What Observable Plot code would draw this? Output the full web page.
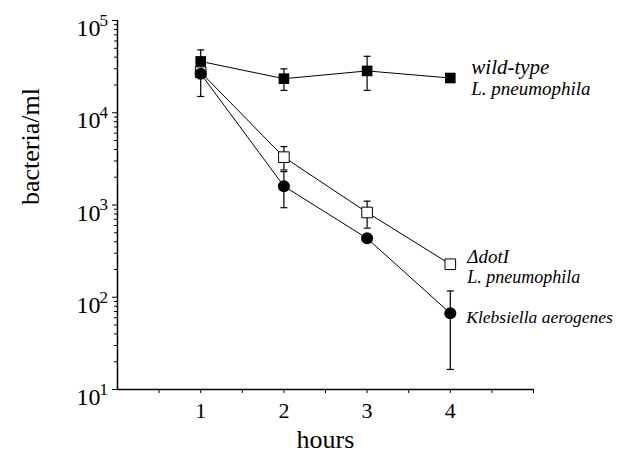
<!DOCTYPE html>
<html>
<head>
<meta charset="utf-8">
<script src="https://cdn.jsdelivr.net/npm/d3@7"></script>
<script src="https://cdn.jsdelivr.net/npm/@observablehq/plot@0.6"></script>
<style>
  html, body { margin: 0; padding: 0; background: #fff; }
  svg { display: block; }
</style>
</head>
<body>
<div id="chart"></div>
<script>
// ---- data ----
const hours = [1, 2, 3, 4];

const wildType   = [36000, 23400, 28400, 23800];
const wildTypeLo = [28000, 17500, 17500, 22500];
const wildTypeHi = [48000, 29900, 40900, 25000];

const dotI   = [27500, 3300, 830, 228];
const dotILo = [24000, 2400, 562, 212];
const dotIHi = [31000, 4300, 1100, 245];

const kleb   = [26500, 1600, 435, 67];
const klebLo = [15000, 935, 400, 16.5];
const klebHi = [33000, 2300, 470, 117];

const xTicks = [0.5, 1, 1.5, 2, 2.5, 3, 3.5, 4, 4.5, 5];
const xTickLabels = [1, 2, 3, 4];
const yMajor = [10, 100, 1000, 10000, 100000];
const yExponents = ["1", "2", "3", "4", "5"];

const wtLabel = ["wild-type", "L. pneumophila"];
const dotILabel = ["\u0394dotI", "L. pneumophila"];
const klebLabel = ["Klebsiella aerogenes"];

// ---- build tables ----
const seriesDefs = [
  {series: "wt", v: wildType, lo: wildTypeLo, hi: wildTypeHi},
  {series: "dotI", v: dotI, lo: dotILo, hi: dotIHi},
  {series: "kleb", v: kleb, lo: klebLo, hi: klebHi}
];
const rows = seriesDefs.flatMap(s => hours.map((h, i) => ({
  series: s.series, hour: h, value: s.v[i], lo: s.lo[i], hi: s.hi[i]
})));
const last = name => [rows.filter(r => r.series === name).at(-1)];

const yMinor = [];
for (const d of yMajor.slice(0, -1)) for (let m = 2; m <= 9; m++) yMinor.push(d * m);

const cap = {draw(ctx) { ctx.moveTo(-3.5, 0); ctx.lineTo(3.5, 0); }};
const font = "'Liberation Serif', 'Times New Roman', serif";

const lab = (series, text, dx, dy, fontSize) =>
  Plot.text(last(series), {x: "hour", y: "value", text: () => text, textAnchor: "start",
    dx, dy, fontSize, fontStyle: "italic"});

const chart = Plot.plot({
  width: 620,
  height: 458,
  marginLeft: 117,
  marginRight: 87,
  marginTop: 20,
  marginBottom: 69,
  style: {fontFamily: font, background: "#fff", color: "#000"},
  x: {domain: [0, 5]},
  y: {type: "log", domain: [10, 100000]},
  marks: [
    Plot.axisX(xTicks, {tickSize: 4, tickPadding: 9, fontSize: 22, label: null,
      tickFormat: d => xTickLabels.includes(d) ? String(d) : ""}),
    Plot.axisY(yMinor, {tickSize: 3, tickFormat: () => "", label: null}),
    Plot.axisY(yMajor, {tickSize: 5, tickFormat: () => "", label: null}),
    Plot.text(yMajor, {y: d => d, frameAnchor: "left", text: () => "10",
      textAnchor: "end", dx: -17, dy: 8, fontSize: 24}),
    Plot.text(yMajor, {y: d => d, frameAnchor: "left", text: (d, i) => yExponents[i],
      textAnchor: "start", dx: -18, dy: 0, fontSize: 17}),
    Plot.ruleX([0], {strokeWidth: 1.5}),
    Plot.ruleY([10], {strokeWidth: 1.5}),
    Plot.text(["bacteria/ml"], {frameAnchor: "left", rotate: -90, dx: -87, fontSize: 26}),
    Plot.text(["hours"], {frameAnchor: "bottom", dy: 58, fontSize: 26}),
    // error bars
    Plot.ruleX(rows, {x: "hour", y1: "lo", y2: "hi", stroke: "black", strokeWidth: 1.2}),
    Plot.dot(rows, {x: "hour", y: "lo", symbol: cap, stroke: "black", fill: "none", strokeWidth: 1.2}),
    Plot.dot(rows, {x: "hour", y: "hi", symbol: cap, stroke: "black", fill: "none", strokeWidth: 1.2}),
    // lines
    Plot.line(rows, {x: "hour", y: "value", z: "series", stroke: "black", strokeWidth: 1}),
    // markers
    Plot.dot(rows.filter(r => r.series === "wt"), {x: "hour", y: "value", symbol: "square", r: 6, fill: "black", stroke: "none"}),
    Plot.dot(rows.filter(r => r.series === "dotI"), {x: "hour", y: "value", symbol: "square", r: 6, fill: "white", stroke: "black", strokeWidth: 1}),
    Plot.dot(rows.filter(r => r.series === "kleb"), {x: "hour", y: "value", symbol: "circle", r: 6, fill: "black", stroke: "none"}),
    // series labels
    lab("wt", wtLabel[0], 21, -11, 21),
    lab("wt", wtLabel[1], 21, 11, 19),
    lab("dotI", dotILabel[0], 17, -7, 19),
    lab("dotI", dotILabel[1], 17, 13, 18),
    lab("kleb", klebLabel[0], 16, 4, 17.5)
  ]
});
document.getElementById("chart").appendChild(chart);
</script>
</body>
</html>
